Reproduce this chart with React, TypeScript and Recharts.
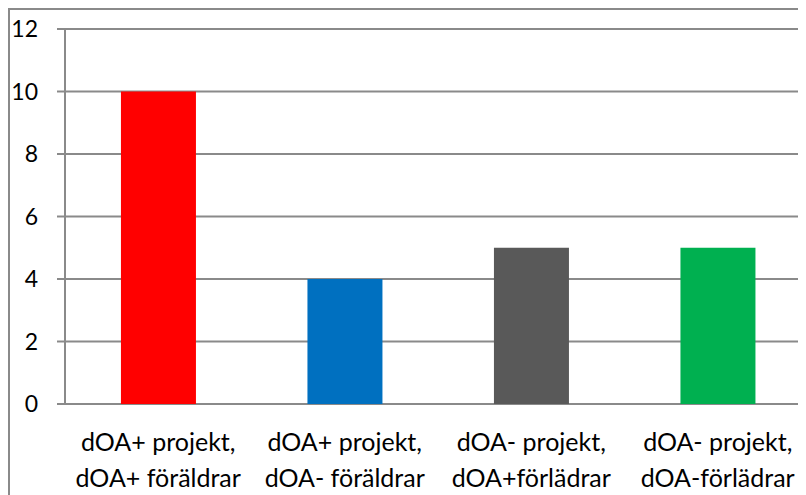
import React from "react";
import { BarChart, Bar, XAxis, YAxis, CartesianGrid, Cell } from "recharts";

const categories = [
  "dOA+ projekt,|dOA+ föräldrar",
  "dOA+ projekt,|dOA- föräldrar",
  "dOA- projekt,|dOA+förlädrar",
  "dOA- projekt,|dOA-förlädrar",
];
const values = [10, 4, 5, 5];
const barColors = ["#FF0000", "#0070C0", "#595959", "#00B050"];
const yTicks = [0, 2, 4, 6, 8, 10, 12];
const boundaryTicks = [0, 1, 2, 3, 4];

const data = categories.map((name, i) => ({ name, value: values[i] }));

const FONT = "Lato, 'Open Sans', sans-serif";
const AXIS = "#8a8a8a";

const CategoryTick = (props: any) => {
  const { x, y, payload } = props;
  const lines = String(payload.value).split("|");
  return (
    <text x={x} y={y} textAnchor="middle" fontFamily={FONT} fontSize={25} fill="#000">
      {lines.map((l, i) => (
        <tspan key={i} x={x} dy={i === 0 ? 39 : 36}>
          {l}
        </tspan>
      ))}
    </text>
  );
};

const EmptyTick = () => <g />;

export default function App() {
  return (
    <div style={{ width: 798, height: 487, overflow: "hidden" }}>
      <div style={{ border: `2px solid ${AXIS}`, width: 840, height: 520, background: "#fff" }}>
        <BarChart
          width={830}
          height={500}
          data={data}
          margin={{ top: 19, right: 29, bottom: 21, left: 0 }}
          barCategoryGap="30%"
        >
          <CartesianGrid horizontal vertical={false} stroke={AXIS} strokeWidth={2} yAxisId="y" xAxisId="cat" />
          <XAxis
            xAxisId="edges"
            type="number"
            dataKey={() => 0}
            domain={[0, 4]}
            ticks={boundaryTicks}
            height={0}
            axisLine={{ stroke: AXIS, strokeWidth: 2 }}
            tickLine={{ stroke: AXIS, strokeWidth: 2 }}
            tickSize={8}
            tick={EmptyTick}
            allowDataOverflow
          />
          <XAxis
            xAxisId="cat"
            dataKey="name"
            height={85}
            axisLine={false}
            tickLine={false}
            tick={<CategoryTick />}
            interval={0}
          />
          <YAxis
            yAxisId="y"
            width={55}
            domain={[0, 12]}
            ticks={yTicks}
            interval={0}
            axisLine={{ stroke: AXIS, strokeWidth: 2 }}
            tickLine={{ stroke: AXIS, strokeWidth: 2 }}
            tickSize={8}
            tickMargin={19}
            tick={{ fontFamily: FONT, fontSize: 23, fill: "#000" }}
          />
          <Bar dataKey="value" xAxisId="cat" yAxisId="y" isAnimationActive={false}>
            {data.map((d, i) => (
              <Cell key={d.name} fill={barColors[i]} />
            ))}
          </Bar>
        </BarChart>
      </div>
    </div>
  );
}
